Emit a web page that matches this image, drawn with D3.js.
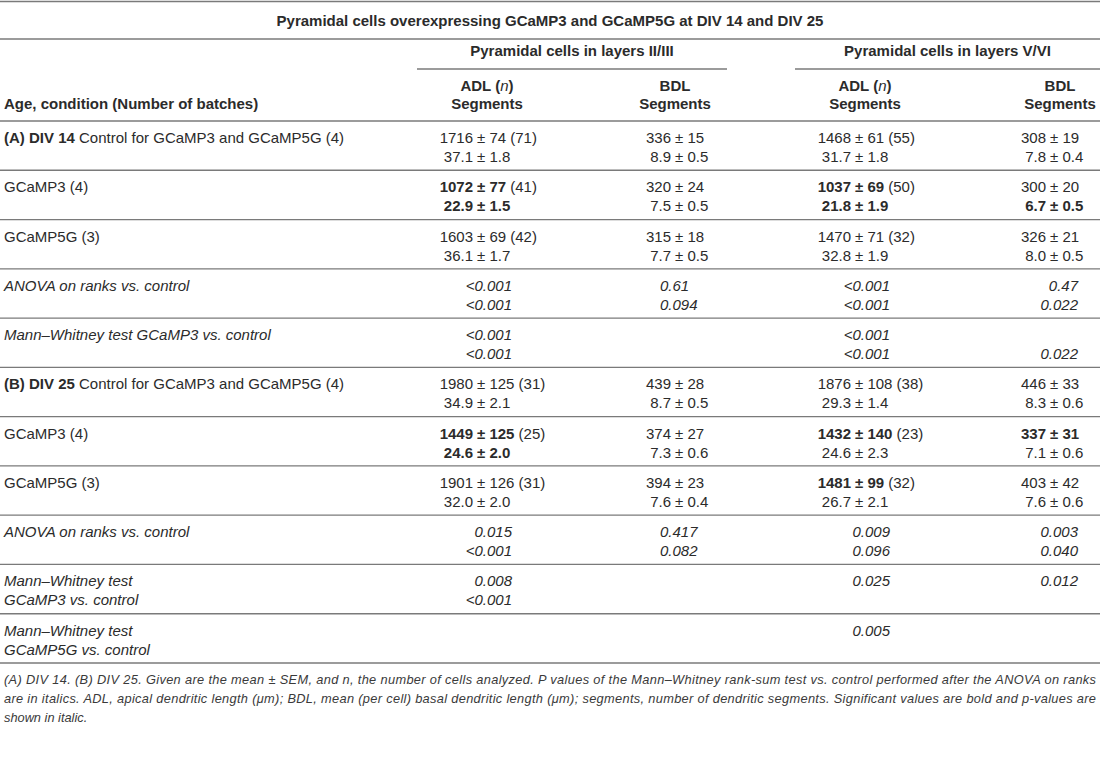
<!DOCTYPE html>
<html lang="en">
<head>
    <meta charset="UTF-8">
    <title>Pyramidal cells table</title>
    <script src="https://d3js.org/d3.v7.min.js"></script>
    <style>
        body { margin: 0; background: #fff; }
        text { font-family: "Liberation Sans", Arial, sans-serif; fill: #2b2b2b; }
        .rule { stroke: #7a7a7a; stroke-width: 1.3px; }
        .head { font-weight: bold; font-size: 15px; }
        .cell { font-size: 15px; }
        .note { font-size: 12.8px; font-style: italic; fill: #3a3a3a; }
    </style>
</head>
<body>
<svg id="tbl" width="1100" height="771"></svg>

<script>
    // Данные таблицы
    const title = "Pyramidal cells overexpressing GCaMP3 and GCaMP5G at DIV 14 and DIV 25";
    const groups = ["Pyramidal cells in layers II/III", "Pyramidal cells in layers V/VI"];
    const colKeys = ["adlII", "bdlII", "adlV", "bdlV"];
    const colHeads = [["ADL (n)", "Segments"], ["BDL", "Segments"], ["ADL (n)", "Segments"], ["BDL", "Segments"]];
    const stubHead = "Age, condition (Number of batches)";

    const rowLead = ["(A) DIV 14", "", "", "", "", "(B) DIV 25", "", "", "", "", ""];
    const rowLabels = [
        ["Control for GCaMP3 and GCaMP5G (4)"],
        ["GCaMP3 (4)"],
        ["GCaMP5G (3)"],
        ["ANOVA on ranks vs. control"],
        ["Mann–Whitney test GCaMP3 vs. control"],
        ["Control for GCaMP3 and GCaMP5G (4)"],
        ["GCaMP3 (4)"],
        ["GCaMP5G (3)"],
        ["ANOVA on ranks vs. control"],
        ["Mann–Whitney test", "GCaMP3 vs. control"],
        ["Mann–Whitney test", "GCaMP5G vs. control"]
    ];
    const testRows = [3, 4, 8, 9, 10];

    const adlII = [
        ["1716 ± 74 (71)", "37.1 ± 1.8"], ["1072 ± 77 (41)", "22.9 ± 1.5"], ["1603 ± 69 (42)", "36.1 ± 1.7"],
        ["<0.001", "<0.001"], ["<0.001", "<0.001"],
        ["1980 ± 125 (31)", "34.9 ± 2.1"], ["1449 ± 125 (25)", "24.6 ± 2.0"], ["1901 ± 126 (31)", "32.0 ± 2.0"],
        ["0.015", "<0.001"], ["0.008", "<0.001"], ["", ""]
    ];
    const bdlII = [
        ["336 ± 15", "8.9 ± 0.5"], ["320 ± 24", "7.5 ± 0.5"], ["315 ± 18", "7.7 ± 0.5"],
        ["0.61", "0.094"], ["", ""],
        ["439 ± 28", "8.7 ± 0.5"], ["374 ± 27", "7.3 ± 0.6"], ["394 ± 23", "7.6 ± 0.4"],
        ["0.417", "0.082"], ["", ""], ["", ""]
    ];
    const adlV = [
        ["1468 ± 61 (55)", "31.7 ± 1.8"], ["1037 ± 69 (50)", "21.8 ± 1.9"], ["1470 ± 71 (32)", "32.8 ± 1.9"],
        ["<0.001", "<0.001"], ["<0.001", "<0.001"],
        ["1876 ± 108 (38)", "29.3 ± 1.4"], ["1432 ± 140 (23)", "24.6 ± 2.3"], ["1481 ± 99 (32)", "26.7 ± 2.1"],
        ["0.009", "0.096"], ["0.025", ""], ["0.005", ""]
    ];
    const bdlV = [
        ["308 ± 19", "7.8 ± 0.4"], ["300 ± 20", "6.7 ± 0.5"], ["326 ± 21", "8.0 ± 0.5"],
        ["0.47", "0.022"], ["", "0.022"],
        ["446 ± 33", "8.3 ± 0.6"], ["337 ± 31", "7.1 ± 0.6"], ["403 ± 42", "7.6 ± 0.6"],
        ["0.003", "0.040"], ["0.012", ""], ["", ""]
    ];
    // значимые значения (жирным): колонка, строка, линия
    const boldCells = [
        ["adlII", 1, 0], ["adlII", 1, 1], ["adlV", 1, 0], ["adlV", 1, 1], ["bdlV", 1, 1],
        ["adlII", 6, 0], ["adlII", 6, 1], ["adlV", 6, 0], ["bdlV", 6, 0], ["adlV", 7, 0]
    ];

    const notes = [
        "(A) DIV 14. (B) DIV 25. Given are the mean ± SEM, and n, the number of cells analyzed. P values of the Mann–Whitney rank-sum test vs. control performed after the ANOVA on ranks",
        "are in italics. ADL, apical dendritic length (μm); BDL, mean (per cell) basal dendritic length (μm); segments, number of dendritic segments. Significant values are bold and p-values are",
        "shown in italic."
    ];

    const columns = { adlII, bdlII, adlV, bdlV };

    // Размеры и шкалы
    const width = 1100;
    const svg = d3.select("#tbl");

    const y = d3.scaleBand().domain(d3.range(rowLabels.length)).range([121, 663]);
    const pmX = d3.scaleOrdinal().domain(colKeys).range([477, 675, 855, 1050]);   // выравнивание по ±
    const pX = d3.scaleOrdinal().domain(colKeys).range([512, 660, 890, 1078]);
    const pAnchor = d3.scaleOrdinal().domain(colKeys).range(["end", "start", "end", "end"]);
    const headX = d3.scaleOrdinal().domain(colKeys).range([487, 675, 865, 1060]);
    const groupX = d3.scaleOrdinal().domain(groups).range([[417, 727], [795, 1100]]);

    // Линии
    const rules = [1.5, 39, 121].concat(y.domain().map(i => y(i) + y.bandwidth()));
    svg.selectAll(".hrule")
        .data(rules)
        .join("line")
        .attr("class", "rule hrule")
        .attr("x1", 0).attr("x2", width)
        .attr("y1", d => d).attr("y2", d => d);

    svg.selectAll(".grule")
        .data(groups)
        .join("line")
        .attr("class", "rule grule")
        .attr("x1", d => groupX(d)[0]).attr("x2", d => groupX(d)[1])
        .attr("y1", 69).attr("y2", 69);

    // Заголовки
    svg.append("text").attr("class", "head")
        .attr("x", width / 2).attr("y", 26)
        .attr("text-anchor", "middle")
        .text(title);

    svg.selectAll(".ghead")
        .data(groups)
        .join("text")
        .attr("class", "head ghead")
        .attr("x", d => (groupX(d)[0] + groupX(d)[1]) / 2)
        .attr("y", 56)
        .attr("text-anchor", "middle")
        .text(d => d);

    colKeys.forEach((k, i) => {
        colHeads[i].forEach((h, j) => {
            const t = svg.append("text").attr("class", "head")
                .attr("x", headX(k)).attr("y", 91 + j * 18)
                .attr("text-anchor", "middle");
            if (h.includes("(n)")) {
                t.append("tspan").text("ADL (");
                t.append("tspan").style("font-style", "italic").style("font-weight", "normal").text("n");
                t.append("tspan").text(")");
            } else {
                t.text(h);
            }
        });
    });

    svg.append("text").attr("class", "head")
        .attr("x", 4).attr("y", 109)
        .text(stubHead);

    // Подписи строк
    rowLabels.forEach((lines, i) => {
        const italic = testRows.includes(i);
        lines.forEach((line, j) => {
            const t = svg.append("text").attr("class", "cell")
                .attr("x", 4).attr("y", y(i) + 22 + j * 19)
                .style("font-style", italic ? "italic" : null);
            if (rowLead[i] && j === 0) {
                t.append("tspan").style("font-weight", "bold").text(rowLead[i] + " ");
            }
            t.append("tspan").text(line);
        });
    });

    // Ячейки
    const isBold = (k, i, j) => boldCells.some(b => b[0] === k && b[1] === i && b[2] === j);

    colKeys.forEach(k => {
        columns[k].forEach((pair, i) => {
            pair.forEach((val, j) => {
                if (!val) return;
                const yy = y(i) + 22 + j * 19;
                const bold = isBold(k, i, j);
                if (testRows.includes(i)) {
                    svg.append("text").attr("class", "cell")
                        .attr("x", pX(k)).attr("y", yy)
                        .attr("text-anchor", pAnchor(k))
                        .style("font-style", "italic")
                        .text(val);
                    return;
                }
                const [pre, post] = val.split(" ± ");
                const m = post.match(/^(\S+)(.*)$/);
                svg.append("text").attr("class", "cell")
                    .attr("x", pmX(k) - 4).attr("y", yy)
                    .attr("text-anchor", "end")
                    .style("font-weight", bold ? "bold" : null)
                    .text(pre);
                const t = svg.append("text").attr("class", "cell")
                    .attr("x", pmX(k)).attr("y", yy);
                t.append("tspan").style("font-weight", bold ? "bold" : null).text("± " + m[1]);
                if (m[2]) t.append("tspan").text(m[2]);
            });
        });
    });

    // Примечание
    svg.selectAll(".note")
        .data(notes)
        .join("text")
        .attr("class", "note")
        .attr("x", 4)
        .attr("y", (d, i) => 684 + i * 19)
        .attr("textLength", (d, i) => i < notes.length - 1 ? 1092 : null)
        .attr("lengthAdjust", "spacing")
        .text(d => d);
</script>
</body>
</html>
